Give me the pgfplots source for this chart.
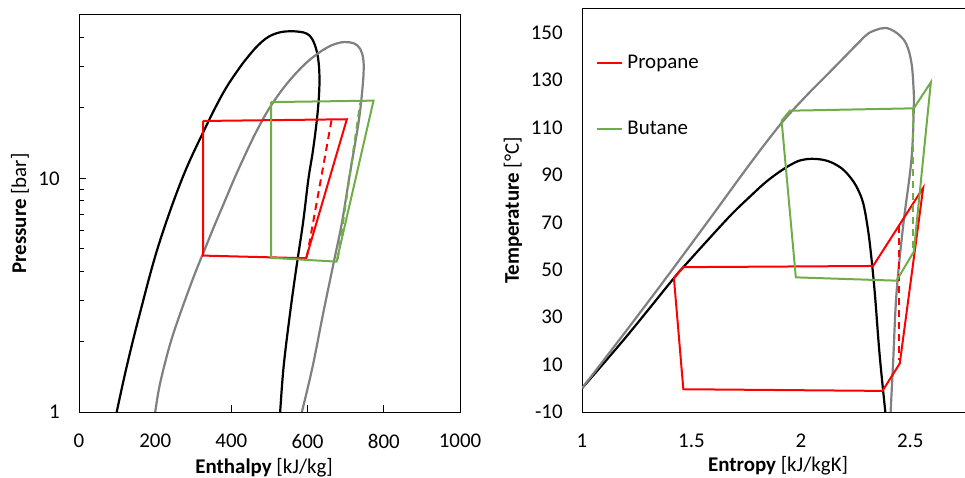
\documentclass[border=0pt]{standalone}
\usepackage{fontspec}
\setmainfont{Carlito}
\usepackage{pgfplots}
\pgfplotsset{compat=1.18}
\definecolor{cRed}{RGB}{255,0,0}
\definecolor{cGreen}{RGB}{112,173,71}
\definecolor{cGray}{RGB}{128,128,128}

\begin{document}
\fontsize{10.5}{12.6}\selectfont
\begin{tikzpicture}
\pgfplotsset{
  every axis/.append style={
    scale only axis,
    font=\fontsize{10.5}{12.6}\selectfont,
    /pgf/number format/assume math mode=true,
    /pgf/number format/1000 sep={},
    axis line style={black, line width=0.5bp},
    tick style={black, line width=0.5bp},
  },
  dome/.style={line width=1.1bp, smooth, tension=0.6, forget plot},
  cyc/.style={line width=1bp, sharp plot},
}
% ---- left: pressure-enthalpy ----
\begin{axis}[
  at={(39.5bp,33bp)}, anchor=south west,
  width=190.5bp, height=198.5bp,
  xmin=0, xmax=1000, ymin=1, ymax=50,
  ymode=log,
  xtick={0,200,...,1000},
  ytick={1,10}, yticklabels={1,10},
  minor ytick={2,3,...,9,20,30,40},
  tick pos=left, tick align=inside,
  major tick length=3.5bp, minor tick length=2.5bp,
  yticklabel style={xshift=-6bp},
  xticklabel style={yshift=-7.5bp},
  xlabel={\textbf{Enthalpy} [kJ/kg]},
  ylabel={\textbf{Pressure} [bar]},
  xlabel style={at={(axis description cs:0.486,-0.141)}, anchor=center},
  ylabel style={at={(axis description cs:-0.155,0.5)}, anchor=center},
]
\addplot[dome, black] coordinates {
  (99,1) (125,1.56) (160,2.65) (208,5.12) (270,9.9) (328,16.0) (379,23.3)
  (420,29.5) (446,33.5) (468,36.8) (490,39.6) (510,41.3) (532,42.3)
  (554,42.6) (578,42.4) (598,41.6) (612,39.5) (624,35) (630,30) (631,25)
  (628,20.5) (622,16.5) (613,12.8) (602,9.9) (588,6.45) (571,4.2)
  (554,2.65) (537,1.56) (528,1)
};
\addplot[dome, cGray] coordinates {
  (200,1) (210,1.26) (224,1.58) (241,2.0) (261,2.51) (283,3.16) (306,3.98)
  (331,5.01) (356,6.31) (382,7.94) (408,10) (436,12.6) (465,15.8)
  (500,20) (543,25.1) (590,30.5) (630,34.5) (660,36.9) (680,37.9)
  (698,38.3) (722,37.8) (738,35.8) (746,32.5) (747,28.5) (743,23.3)
  (735,17.9) (722,13.3) (709,10) (690,6.45) (669,4.4) (641,2.65)
  (613,1.56) (585,1)
};
\addplot[cyc, cRed] coordinates {
  (326,17.6) (703,17.9) (596,4.55) (326,4.67) (326,17.6)
};
\addplot[cyc, cRed, dash pattern=on 3.5bp off 2.5bp] coordinates {
  (598,4.6) (663,17.8)
};
\addplot[cyc, cGreen] coordinates {
  (504,21.2) (773,21.5) (676,4.40) (504,4.57) (504,21.2)
};
\addplot[cyc, cGreen, dash pattern=on 3.5bp off 2.5bp] coordinates {
  (679,4.5) (738,21.0)
};
\end{axis}
% ---- right: temperature-entropy ----
\begin{axis}[
  at={(291bp,33bp)}, anchor=south west,
  width=191.5bp, height=201.5bp,
  xmin=1, xmax=2.75, ymin=-10, ymax=160,
  xtick={1,1.5,2,2.5}, ytick={-10,10,...,150},
  axis x line*=box, axis y line*=left,
  y axis line style={-},
  major tick length=0pt,
  yticklabel style={xshift=-6bp},
  xticklabel style={yshift=-7.5bp},
  xlabel={\textbf{Entropy} [kJ/kgK]},
  ylabel={\textbf{Temperature} [°C]},
  xlabel style={at={(axis description cs:0.512,-0.134)}, anchor=center},
  ylabel style={at={(axis description cs:-0.180,0.5)}, anchor=center},
  legend style={draw=none, fill=none, at={(axis cs:1.037,144.3)}, anchor=north west,
    row sep=21bp, font=\fontsize{10.5}{12.6}\selectfont},
  legend cell align=left,
  legend image code/.code={\draw[#1] (0bp,0bp) -- (9bp,0bp); \path (0bp,0bp) -- (12.5bp,0bp);},
]
\addplot[dome, black] coordinates {
  (1,0) (1.2,21.5) (1.42,46.5) (1.463,51.1) (1.609,66) (1.69,74)
  (1.761,80.3) (1.84,87) (1.913,92) (1.974,95.3) (2.01,96.4) (2.05,96.8)
  (2.1,96.4) (2.142,95.2) (2.19,92.5) (2.23,88.5) (2.26,84) (2.285,78)
  (2.305,68) (2.32,57) (2.338,40) (2.36,14) (2.386,-10)
};
\addplot[dome, cGray] coordinates {
  (1,0) (1.2,24) (1.4,48.5) (1.6,73.5) (1.7,86.2) (1.8,98.7) (1.9,110.6)
  (1.965,117.5) (2.05,125.8) (2.117,132) (2.2,139.8) (2.269,146.3)
  (2.31,149.8) (2.361,151.7) (2.385,152) (2.41,151.4) (2.45,149)
  (2.483,145) (2.505,137.5) (2.514,128) (2.516,118.5) (2.505,96.3)
  (2.467,68.2) (2.437,40.1) (2.422,11.9) (2.411,-8.4) (2.41,-10)
};
\addplot[cyc, cRed] coordinates {
  (1.42,46.5) (1.463,51.1) (2.33,51.6) (2.559,84.6) (2.452,10.5)
  (2.373,-1.1) (1.463,-0.4) (1.42,46.5)
};
\addlegendentry{Propane}
\addplot[cyc, cRed, dash pattern=on 3.5bp off 2.5bp, forget plot] coordinates {
  (2.449,68.5) (2.449,12)
};
\addplot[cyc, cGreen] coordinates {
  (1.912,112.9) (1.95,117.1) (2.516,118.1) (2.594,129.1) (2.516,57.6)
  (2.437,45.4) (1.977,46.8) (1.912,112.9)
};
\addlegendentry{Butane}
\addplot[cyc, cGreen, dash pattern=on 3.5bp off 2.5bp, forget plot] coordinates {
  (2.513,118) (2.513,58)
};
\end{axis}
\pgfresetboundingbox
\path[use as bounding box] (0,0) rectangle (482.5bp,239bp);
\end{tikzpicture}
\end{document}
